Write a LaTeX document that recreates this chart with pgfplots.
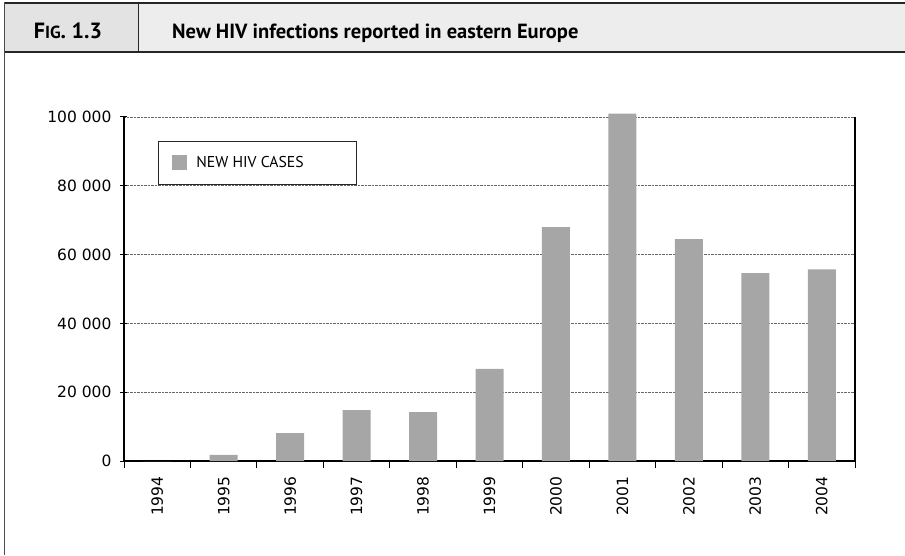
\documentclass[border=0pt]{standalone}
\usepackage{fontspec}
\usepackage{pgfplots}
\pgfplotsset{compat=1.18}
\setmainfont{PT Sans}
\newfontfamily\tickfont{DejaVu Sans}

\begin{document}
\begin{tikzpicture}[x=1pt,y=1pt]
\useasboundingbox (0,0) rectangle (905,555);
% header band
\fill[black!11] (4,503) rectangle (138,552);
\fill[black!7] (138,503) rectangle (905,552);
\draw[line width=0.9pt, black!85] (138,503) -- (138,552);
\draw[line width=2pt, black!85] (4,552) -- (905,552);
\draw[line width=1.6pt, black!85] (4,503) -- (905,503);
\draw[line width=1pt, black!70] (4,553) -- (4,0);
\node[anchor=base, inner sep=0pt] at (68,516)
  {\fontsize{22}{26}\selectfont\bfseries F\fontsize{17.5}{20}\selectfont IG\fontsize{22}{26}\selectfont. 1.3};
\node[anchor=base west, inner sep=0pt] at (172,516)
  {\fontsize{20.5}{24}\selectfont\bfseries New HIV infections reported in eastern Europe};

\begin{axis}[
  at={(124pt,94pt)}, anchor=south west,
  scale only axis, width=731pt, height=344pt,
  xmin=-0.5, xmax=10.5, ymin=0, ymax=100000,
  axis x line=bottom, axis y line=left,
  axis line style={black, line width=1.2pt, -},
  xtick={-0.5,0.5,...,10.5},
  xticklabels={1994,1995,1996,1997,1998,1999,2000,2001,2002,2003,2004},
  x tick label as interval,
  ytick={0,20000,...,100000},
  ymajorgrids,
  grid style={densely dotted, black!60, line width=0.7pt},
  tick align=outside, major tick length=7pt,
  tick style={black, line width=1pt},
  ytick style={xshift=3pt},
  /pgf/number format/fixed,
  /pgf/number format/assume math mode=true,
  /pgf/number format/1000 sep={\ },
  scaled y ticks=false,
  xticklabel style={yshift=-5pt, rotate=90, anchor=east,
    font=\tickfont\fontsize{15.5}{18}\selectfont},
  yticklabel style={xshift=-2pt, font=\tickfont\fontsize{15.5}{18}\selectfont},
  clip=false,
  legend style={at={(rel axis cs:0.0465,0.802)}, anchor=south west,
    draw=black!85, line width=0.8pt, inner xsep=14pt, inner ysep=13.5pt,
    font=\fontsize{15.7}{18}\selectfont,
    /tikz/every odd column/.append style={column sep=7pt}},
  legend cell align=left,
  legend image code/.code={\fill[#1] (0pt,-7.5pt) rectangle (15pt,7.5pt);},
]
\addplot[ybar, bar width=28pt, fill=black!35, draw=none] coordinates {
  (0,0) (1,1800) (2,8100) (3,14800) (4,14200) (5,26800)
  (6,68000) (7,101000) (8,64500) (9,54600) (10,55700)
};
\addlegendentry{NEW HIV CASES\hspace*{37pt}}
\draw[black, line width=1.2pt] (rel axis cs:1,0) -- (rel axis cs:1,1);
\end{axis}
\end{tikzpicture}
\end{document}
